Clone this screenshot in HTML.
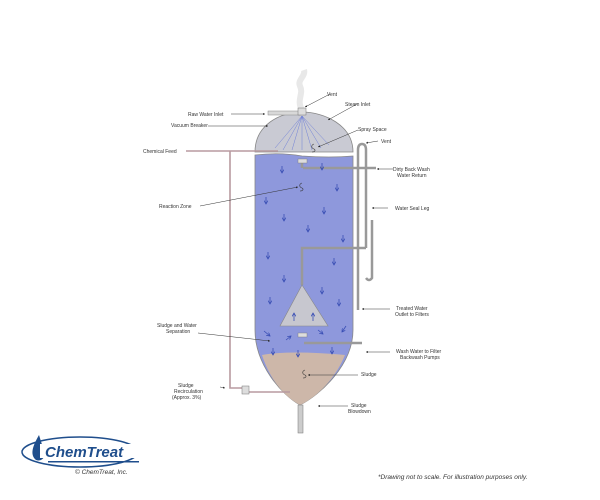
<!DOCTYPE html>
<html><head><meta charset="utf-8"><style>
html,body{margin:0;padding:0;background:#fff;width:600px;height:500px;overflow:hidden}
svg text{font-family:"Liberation Sans",sans-serif;font-size:5px;fill:#333}
</style></head><body>
<svg width="600" height="500" viewBox="0 0 600 500" xmlns="http://www.w3.org/2000/svg">
<defs>
<marker id="a" markerWidth="5" markerHeight="5" refX="4" refY="2.5" orient="auto"><path d="M0,0.5 L4,2.5 L0,4.5z" fill="#222"/></marker>
<marker id="b" markerWidth="4" markerHeight="4" refX="3.5" refY="2" orient="auto" markerUnits="userSpaceOnUse"><path d="M0,0 L3.5,2 L0,4" fill="none" stroke="#3a4fb5" stroke-width="0.8"/></marker>
</defs>
<!-- steam -->
<path d="M302,110 C296,100 304,94 300,86 C297,80 306,76 304,70" stroke="#e2e2e2" stroke-width="6" fill="none" opacity="0.8"/>
<!-- tank -->
<path d="M255,152 C255,125 280,112 302,112 C324,112 353,125 353,152 Z" fill="#c9cad3" stroke="#888" stroke-width="0.8"/>
<path d="M255,155 Q280,152 302,156 Q330,158 353,156 L353,330 C353,365 320,395 300,405 C282,395 255,365 255,330 Z" fill="#8e98dc" stroke="#888" stroke-width="0.8"/>
<path d="M262,355 Q290,350 345,355 C335,380 315,398 300,405 C285,397 270,380 262,355 Z" fill="#cdb7a9"/>
<!-- spray lines -->
<g stroke="#5a6fd8" stroke-width="0.4">
<line x1="302" y1="116" x2="275" y2="148"/><line x1="302" y1="116" x2="283" y2="150"/><line x1="302" y1="116" x2="292" y2="150"/><line x1="302" y1="116" x2="302" y2="150"/><line x1="302" y1="116" x2="312" y2="150"/><line x1="302" y1="116" x2="321" y2="148"/><line x1="302" y1="116" x2="329" y2="145"/>
</g>
<!-- squiggles -->
<g fill="none" stroke="#333" stroke-width="0.6">
<path d="M314,144 C311,145 311,148 314,149 C316,150 315,152 312,152"/>
<path d="M302,183 C299,184 299,187 302,188 C304,189 303,191 300,191"/>
<path d="M305,370 C302,371 302,374 305,375 C307,376 306,378 303,378"/>
</g>
<!-- raw water inlet pipe -->
<rect x="268" y="111" width="32" height="4" fill="#d8d8d8" stroke="#888" stroke-width="0.5"/>
<rect x="298" y="108" width="8" height="7" fill="#ddd" stroke="#777" stroke-width="0.5"/>
<!-- chemical feed / recirc -->
<g fill="none" stroke="#b89aa0" stroke-width="1.6">
<path d="M186,151 L278,151"/><path d="M230,151 L230,388 L246,388"/><path d="M248,392 L290,392"/>
</g>
<rect x="242" y="386" width="7" height="8" fill="#ddd" stroke="#777" stroke-width="0.5"/>
<!-- blowdown -->
<rect x="298" y="405" width="5" height="28" fill="#ccc" stroke="#777" stroke-width="0.5"/>
<!-- right pipes -->
<g fill="none" stroke="#999" stroke-width="2.5">
<path d="M358,310 L358,150 Q358,144 362,144 Q366,144 366,150 L366,248"/>
<path d="M303,168 L376,168"/>
<path d="M302,285 L302,248 L366,248"/>
<path d="M372,220 L372,278 Q369,282 366,278"/>
<path d="M304,343 L362,343"/>
<path d="M302,162 L302,168"/>
</g>
<rect x="298" y="159" width="9" height="4" fill="#ddd" stroke="#777" stroke-width="0.4"/>
<rect x="298" y="333" width="9" height="4" fill="#ddd" stroke="#777" stroke-width="0.4"/>
<!-- cone -->
<path d="M302,285 L328,326 L280,326 Z" fill="#c7c7cf" stroke="#888" stroke-width="0.6"/>
<!-- flow arrows -->
<g stroke="#3a4fb5" stroke-width="0.8" marker-end="url(#b)">
<line x1="282" y1="166" x2="282" y2="173"/><line x1="322" y1="163" x2="322" y2="170"/><line x1="337" y1="184" x2="337" y2="191"/><line x1="266" y1="197" x2="266" y2="204"/><line x1="324" y1="207" x2="324" y2="214"/><line x1="284" y1="214" x2="284" y2="221"/><line x1="308" y1="225" x2="308" y2="232"/><line x1="343" y1="235" x2="343" y2="242"/><line x1="268" y1="252" x2="268" y2="259"/><line x1="334" y1="258" x2="334" y2="265"/><line x1="284" y1="275" x2="284" y2="282"/><line x1="322" y1="287" x2="322" y2="294"/><line x1="270" y1="297" x2="270" y2="304"/><line x1="339" y1="299" x2="339" y2="306"/><line x1="273" y1="348" x2="273" y2="355"/><line x1="298" y1="350" x2="298" y2="357"/><line x1="332" y1="347" x2="332" y2="354"/>
<line x1="294" y1="321" x2="294" y2="313"/><line x1="313" y1="321" x2="313" y2="313"/>
<line x1="264" y1="331" x2="270" y2="336"/><line x1="286" y1="340" x2="291" y2="336"/><line x1="318" y1="330" x2="323" y2="334"/><line x1="346" y1="326" x2="342" y2="332"/>
</g>
<!-- leader lines -->
<g stroke="#333" stroke-width="0.5" marker-end="url(#a)">
<line x1="231" y1="114" x2="265" y2="114"/><line x1="330" y1="94" x2="305" y2="107"/><line x1="357" y1="104" x2="328" y2="120"/><line x1="208" y1="126" x2="268" y2="126"/><line x1="358" y1="130" x2="318" y2="147"/><line x1="378" y1="141" x2="366" y2="143"/><line x1="393" y1="169" x2="377" y2="169"/><line x1="200" y1="206" x2="298" y2="187"/><line x1="388" y1="208" x2="372" y2="208"/><line x1="390" y1="309" x2="362" y2="309"/><line x1="198" y1="333" x2="270" y2="341"/><line x1="390" y1="352" x2="366" y2="352"/><line x1="358" y1="375" x2="308" y2="375"/><line x1="220" y1="387" x2="225" y2="388"/><line x1="348" y1="406" x2="318" y2="406"/>
</g>
<text x="327" y="96">Vent</text>
<text x="188" y="116">Raw Water Inlet</text>
<text x="345" y="106">Steam Inlet</text>
<text x="171" y="127">Vacuum Breaker</text>
<text x="358" y="131">Spray Space</text>
<text x="143" y="153">Chemical Feed</text>
<text x="381" y="143">Vent</text>
<text x="393" y="171">Dirty Back Wash</text>
<text x="397" y="177">Water Return</text>
<text x="159" y="208">Reaction Zone</text>
<text x="395" y="210">Water Seal Leg</text>
<text x="396" y="310">Treated Water</text>
<text x="395" y="316">Outlet to Filters</text>
<text x="157" y="327">Sludge and Water</text>
<text x="166" y="333">Separation</text>
<text x="396" y="353">Wash Water to Filter</text>
<text x="400" y="359">Backwash Pumps</text>
<text x="361" y="376">Sludge</text>
<text x="178" y="387">Sludge</text>
<text x="174" y="393">Recirculation</text>
<text x="172" y="399">(Approx. 3%)</text>
<text x="351" y="407">Sludge</text>
<text x="348" y="413">Blowdown</text>
<!-- logo -->
<ellipse cx="80" cy="452" rx="58" ry="15" fill="none" stroke="#1f4e8c" stroke-width="1.5"/>
<path d="M39,435 C32,447 30,455 36,460 C42,462 46,457 44,451 Z" fill="#1f4e8c"/>
<rect x="40" y="444" width="100" height="14" fill="#fff"/>
<text x="45" y="457" style="font-size:15px;font-weight:bold;font-style:italic;fill:#1f4e8c">ChemTreat</text>
<rect x="48" y="461" width="91" height="1.5" fill="#1f4e8c"/>
<text x="75" y="474" style="font-size:6.5px;font-style:italic;fill:#333">© ChemTreat, Inc.</text>
<text x="378" y="479" style="font-size:6.5px;font-style:italic;fill:#333">*Drawing not to scale. For illustration purposes only.</text>
</svg>
</body></html>
